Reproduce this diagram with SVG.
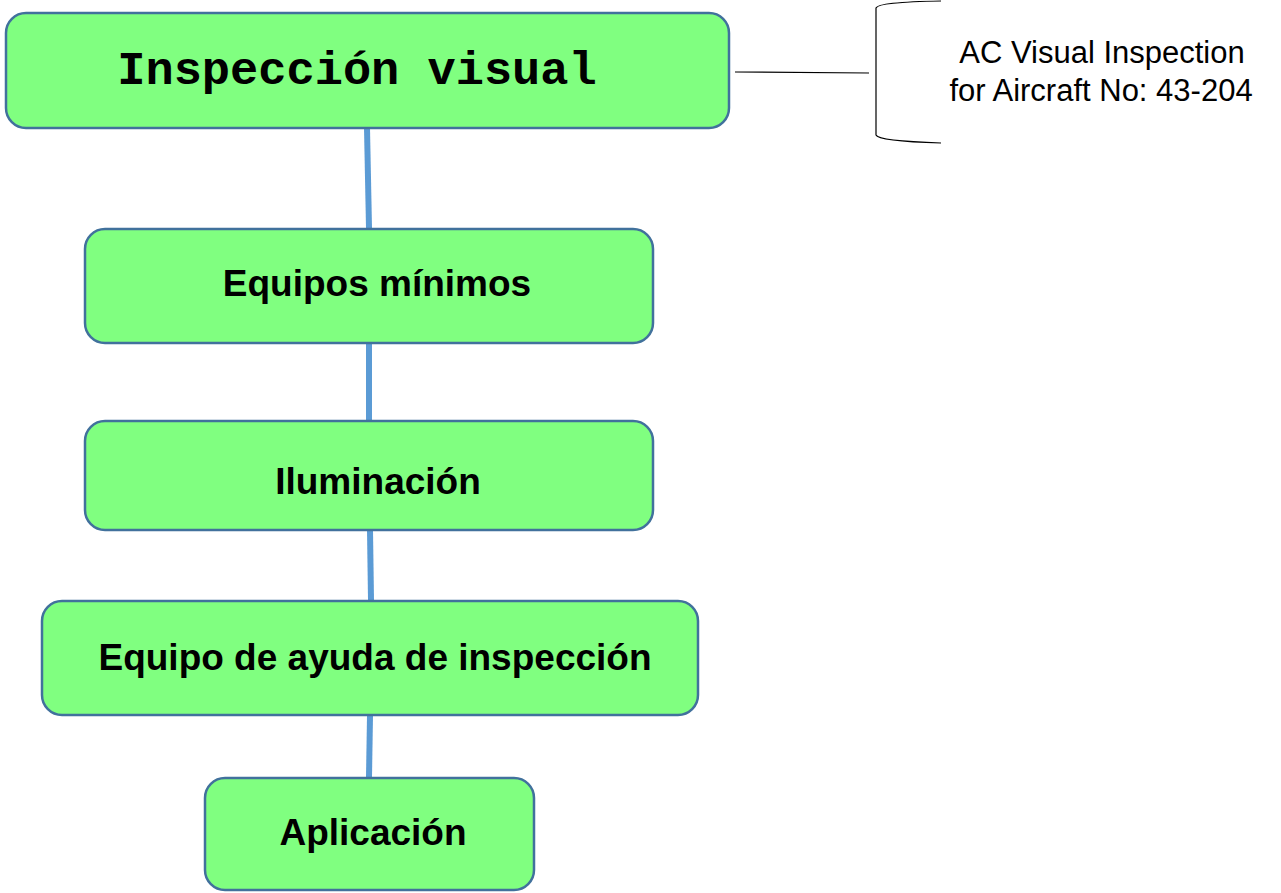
<svg xmlns="http://www.w3.org/2000/svg" width="1281" height="893" viewBox="0 0 1281 893">
<style>
.box{fill:#80ff80;stroke:#41719c;stroke-width:2.5}
.lbl{font-family:"Liberation Sans",Arial,sans-serif;font-weight:bold;font-size:37px;fill:#000;text-anchor:middle}
.conn{stroke:#5b9bd5;stroke-width:6;fill:none}
.note{font-family:"Liberation Sans",Arial,sans-serif;font-size:31px;fill:#000;text-anchor:middle}
</style>
<rect width="1281" height="893" fill="#fff"/>
<g id="connectors">
<line class="conn" x1="367" y1="128" x2="369" y2="228"/>
<line class="conn" x1="369" y1="343" x2="369" y2="420"/>
<line class="conn" x1="370" y1="530" x2="371" y2="600"/>
<line class="conn" x1="370" y1="716" x2="369" y2="777"/>
<line x1="735" y1="72" x2="869" y2="73" stroke="#000" stroke-width="1.2"/>
</g>
<g id="n-inspeccion">
<rect class="box" x="6" y="13" width="723" height="115" rx="20"/>
<text x="357" y="84" font-family="'Liberation Mono','Courier New',monospace" font-weight="bold" font-size="47" text-anchor="middle" fill="#000">Inspección visual</text>
</g>
<g id="n-equipos">
<rect class="box" x="85" y="229" width="568" height="114" rx="20"/>
<text class="lbl" x="377" y="296">Equipos mínimos</text>
</g>
<g id="n-iluminacion">
<rect class="box" x="85" y="421" width="568" height="109" rx="20"/>
<text class="lbl" x="378" y="494">Iluminación</text>
</g>
<g id="n-ayuda">
<rect class="box" x="42" y="601" width="656" height="114" rx="20"/>
<text class="lbl" x="375" y="670">Equipo de ayuda de inspección</text>
</g>
<g id="n-aplicacion">
<rect class="box" x="205" y="778" width="329" height="112" rx="20"/>
<text class="lbl" x="373" y="845">Aplicación</text>
</g>
<g id="n-note">
<path d="M941,1 Q878,2 876,8 L876,135 Q878,141 941,143" fill="none" stroke="#000" stroke-width="1.2"/>
<text class="note" x="1102" y="63">AC Visual Inspection</text>
<text class="note" x="1101" y="101">for Aircraft No: 43-204</text>
</g>
</svg>
